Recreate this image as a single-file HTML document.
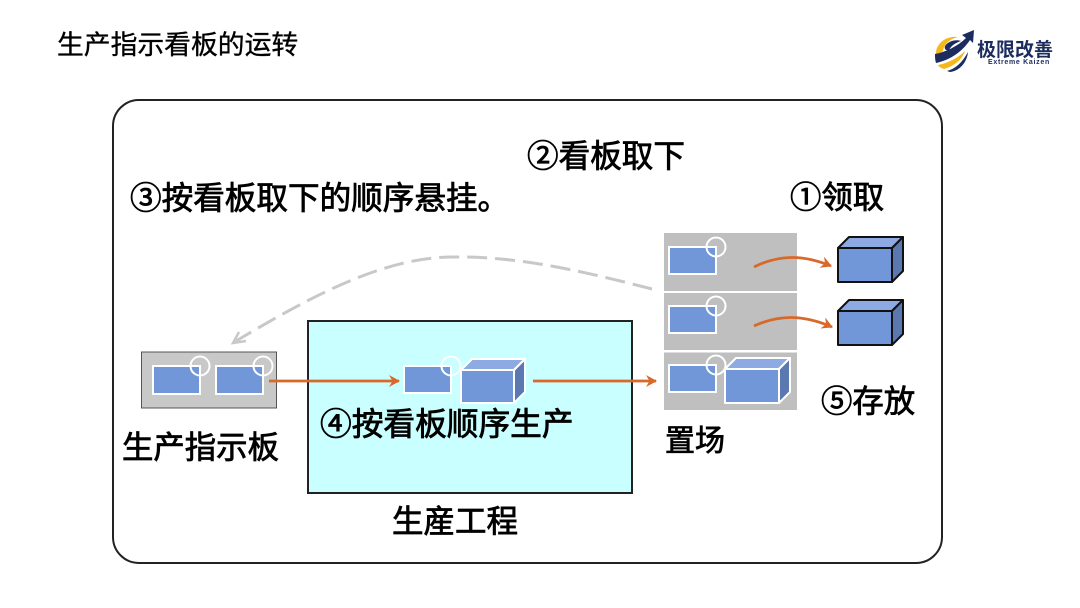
<!DOCTYPE html>
<html lang="zh">
<head>
<meta charset="utf-8">
<style>
html,body{margin:0;padding:0;background:#fff;width:1080px;height:608px;overflow:hidden}
svg{display:block}
text{font-family:"Liberation Sans","Noto Sans CJK SC",sans-serif;fill:#000}
.l{font-size:31px;stroke:#000;stroke-width:.8px}
</style>
</head>
<body>
<svg width="1080" height="608" viewBox="0 0 1080 608" xmlns="http://www.w3.org/2000/svg">
<defs>
<marker id="o" markerWidth="14" markerHeight="14" refX="10" refY="6" orient="auto" markerUnits="userSpaceOnUse"><path d="M0 0L11 6L0 12L3.500 6Z" fill="#d9692a"/></marker>
</defs>
<rect width="1080" height="608" fill="#fff"/>
<text x="57" y="54" font-size="26.8" style="stroke:#000;stroke-width:.35px">生产指示看板的运转</text>

<!-- logo -->
<path d="M938 46C942 39 950 36 958 37C950 39 944 44 943 51L936 56C936 52 936 49 938 46Z" fill="#f5b81c"/>
<path d="M945 46C948 41 956 39 961 41C955 43 951 46 949 50C946 51 944 49 945 46Z" fill="#1c2c5e"/>
<path d="M935 54C946 52 958 46 966 38L962 35L974 30L973 43L970 40C962 52 950 60 936 63C935 60 935 57 935 54Z" fill="#1c2c5e"/>
<path d="M938 65C948 63 958 58 965 51C962 60 954 66 944 69C941 68 939 67 938 65Z" fill="#f5b81c"/>
<path d="M947 71C955 69 962 63 968 52C967 62 960 71 950 72Z" fill="#1c2c5e"/>
<text x="977" y="56" font-size="19" font-weight="700" style="fill:#1c2c5e">极限改善</text>
<text x="988" y="64" font-size="7" font-weight="700" letter-spacing=".7" style="fill:#1c2c5e">Extreme Kaizen</text>

<!-- frame -->
<rect x="113" y="100" width="829" height="463" rx="26" fill="#fff" stroke="#222" stroke-width="2"/>

<!-- process box -->
<rect x="308" y="321" width="324" height="172" fill="#c9ffff" stroke="#222" stroke-width="2"/>

<text class="l" x="527" y="167" style="font-size:31.6px">②看板取下</text>
<text class="l" x="130" y="209" style="font-size:31.6px">③按看板取下的顺序悬挂。</text>
<text class="l" x="790" y="208" style="font-size:31.4px">①领取</text>
<text class="l" x="821" y="412" style="font-size:31.4px">⑤存放</text>
<text class="l" x="320" y="435" style="font-size:31.7px">④按看板顺序生产</text>
<text class="l" x="122" y="458" style="font-size:31.4px">生产指示板</text>
<text class="l" x="665" y="451" style="font-size:30px">置场</text>
<text class="l" x="392" y="532" style="font-size:31.5px">生産工程</text>

<!-- dashed return -->
<path d="M652 289C590 273 520 256 455 257C385 256 310 297 236 341" fill="none" stroke="#c8c8c8" stroke-width="3" stroke-dasharray="20 8"/>
<path d="M246 341L233 343L239 332" fill="none" stroke="#c8c8c8" stroke-width="2.500"/>

<!-- board -->
<rect x="141.500" y="352" width="135" height="56" fill="#c8c8c8" stroke="#555" stroke-width="1"/>
<rect x="153" y="366" width="47" height="28" fill="#7297d8" stroke="#fff" stroke-width="2"/>
<rect x="216" y="366" width="47" height="28" fill="#7297d8" stroke="#fff" stroke-width="2"/>
<circle cx="200" cy="366" r="9.500" fill="none" stroke="#fff" stroke-width="2"/>
<circle cx="263" cy="366" r="9.500" fill="none" stroke="#fff" stroke-width="2"/>

<!-- shelves -->
<rect x="664" y="233" width="133" height="58" fill="#bfbfbf"/>
<rect x="664" y="293" width="133" height="57" fill="#bfbfbf"/>
<rect x="664" y="352.500" width="133" height="57.500" fill="#bfbfbf"/>
<g fill="#7297d8" stroke="#fff" stroke-width="2">
<rect x="669" y="247" width="47" height="27"/>
<rect x="669" y="306" width="47" height="27"/>
<rect x="669" y="365" width="47" height="27"/>
<rect x="404" y="366" width="47" height="27"/>
</g>
<g fill="none" stroke="#fff" stroke-width="2">
<circle cx="716" cy="247" r="9.500"/>
<circle cx="716" cy="306" r="9.500"/>
<circle cx="716" cy="365" r="9.500"/>
<circle cx="451" cy="366" r="9.500"/>
</g>

<!-- white boxes -->
<g stroke="#fff" stroke-width="2" stroke-linejoin="round">
<path d="M725 369L736 358H790L779 369Z" fill="#8eaae2"/>
<path d="M779 369L790 358V392L779 403Z" fill="#5b79b0"/>
<rect x="725" y="369" width="54" height="34" fill="#7297d8"/>
<path d="M461 370L472 359H525L514 370Z" fill="#8eaae2"/>
<path d="M514 370L525 359V392L514 403Z" fill="#5b79b0"/>
<rect x="461" y="370" width="53" height="33" fill="#7297d8"/>
</g>

<!-- black boxes -->
<g stroke="#111" stroke-width="2" stroke-linejoin="round">
<path d="M838 248L849 237H903L892 248Z" fill="#8eaae2"/>
<path d="M892 248L903 237V271L892 282Z" fill="#5b79b0"/>
<rect x="838" y="248" width="54" height="34" fill="#7297d8"/>
<path d="M838 311L849 300H903L892 311Z" fill="#8eaae2"/>
<path d="M892 311L903 300V334L892 345Z" fill="#5b79b0"/>
<rect x="838" y="311" width="54" height="34" fill="#7297d8"/>
</g>

<!-- orange arrows -->
<g fill="none" stroke="#d9692a" stroke-width="2.800">
<path d="M269 381H399" marker-end="url(#o)"/>
<path d="M533 381H656" marker-end="url(#o)"/>
<path d="M754 267C778 255 802 254 831 266" marker-end="url(#o)"/>
<path d="M754 326C778 315 802 314 832 327" marker-end="url(#o)"/>
</g>
</svg>
</body>
</html>
